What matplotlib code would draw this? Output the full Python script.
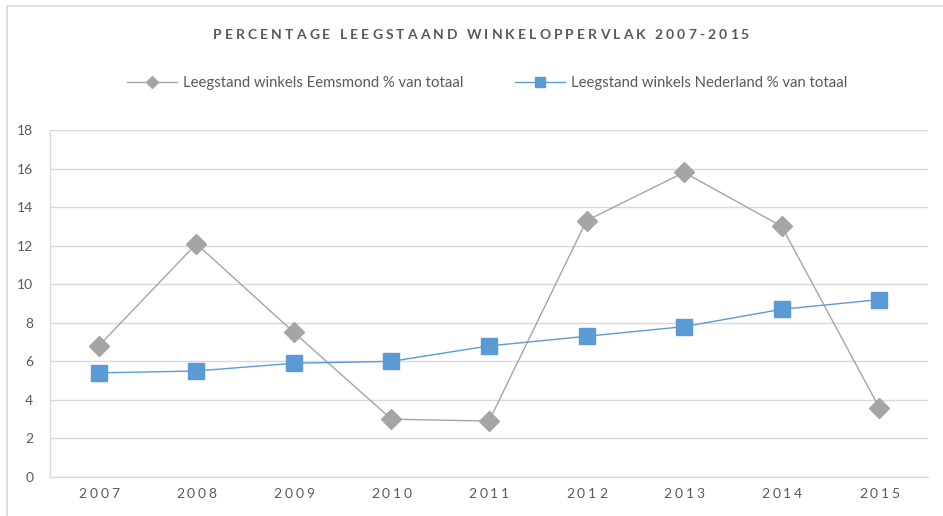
import matplotlib.pyplot as plt
from matplotlib.patches import Rectangle
from matplotlib.lines import Line2D

# data
jaren = ["2007", "2008", "2009", "2010", "2011", "2012", "2013", "2014", "2015"]
eemsmond = [6.8, 12.1, 7.5, 3.0, 2.9, 13.3, 15.8, 13.0, 3.6]
nederland = [5.4, 5.5, 5.9, 6.0, 6.8, 7.3, 7.8, 8.7, 9.2]
y_ticks = [0, 2, 4, 6, 8, 10, 12, 14, 16, 18]

titel = "PERCENTAGE LEEGSTAAND WINKELOPPERVLAK 2007-2015"
label_e = "Leegstand winkels Eemsmond % van totaal"
label_n = "Leegstand winkels Nederland % van totaal"

grijs = "#A5A5A5"
blauw = "#5B9BD5"
tekst = "#595959"
raster = "#D9D9D9"

plt.rcParams["font.family"] = ["Lato", "DejaVu Sans"]

W, H = 943, 516
fig = plt.figure(figsize=(W / 100, H / 100), dpi=100)
ax = fig.add_axes([50 / W, (H - 477) / H, (928 - 50) / W, (477 - 130) / H])

x = list(range(len(jaren)))
ax.plot(x, eemsmond, color=grijs, lw=1, marker="D", ms=10,
        mfc=grijs, mec=grijs, zorder=3)
ax.plot(x, nederland, color=blauw, lw=1, marker="s", ms=12,
        mfc=blauw, mec=blauw, zorder=4)

ax.set_xlim(-0.5, len(jaren) - 0.5)
ax.set_ylim(0, 18)
ax.set_yticks(y_ticks)
ax.set_xticks(x)
ax.set_xticklabels([])
ax.tick_params(axis="both", length=0, labelsize=10, labelcolor=tekst)
ax.tick_params(axis="y", pad=12)
ax.grid(axis="y", color=raster, lw=1)
ax.set_axisbelow(True)
for s in ["top", "right"]:
    ax.spines[s].set_visible(False)
for s in ["left", "bottom"]:
    ax.spines[s].set_color(raster)
    ax.spines[s].set_linewidth(1)

renderer = fig.canvas.get_renderer()


def spaced_text(s, xc, yp, spatie, spatie_w, **kw):
    # text with letter spacing, drawn char by char in pixel coords
    breedtes = []
    for ch in s:
        if ch == " ":
            breedtes.append(spatie_w)
            continue
        t = fig.text(0, 0, ch, **kw)
        breedtes.append(t.get_window_extent(renderer).width)
        t.remove()
    totaal = sum(breedtes) + spatie * (len(s) - 1)
    xp = xc - totaal / 2
    for ch, w in zip(s, breedtes):
        if ch != " ":
            fig.text(xp, yp, ch, transform=None, ha="left", va="center", **kw)
        xp += w + spatie


spaced_text(titel, 481, H - 35, 3.1, 3, fontsize=10, fontweight="bold",
            color=tekst)

for xi, jaar in zip(x, jaren):
    px = ax.transData.transform((xi, 0))[0]
    spaced_text(jaar, px, H - 494, 2.8, 3, fontsize=10, color=tekst)

handles = [
    Line2D([], [], color=grijs, lw=1, marker="D", ms=6, mfc=grijs, mec=grijs),
    Line2D([], [], color=blauw, lw=1, marker="s", ms=7, mfc=blauw, mec=blauw),
]
fig.legend(handles, [label_e, label_n], loc="center", ncol=2,
           bbox_to_anchor=(487 / W, (H - 83) / H), frameon=False,
           fontsize=10.7, labelcolor=tekst, handlelength=3.35,
           columnspacing=3.5, handletextpad=0.4)

# chart frame, partly cut off at right and bottom
fig.patches.append(Rectangle((7, -20), 1000, H - 6 + 20, transform=None,
                             fill=False, ec=raster, lw=1.2))

fig.savefig("out.png", dpi=100)
